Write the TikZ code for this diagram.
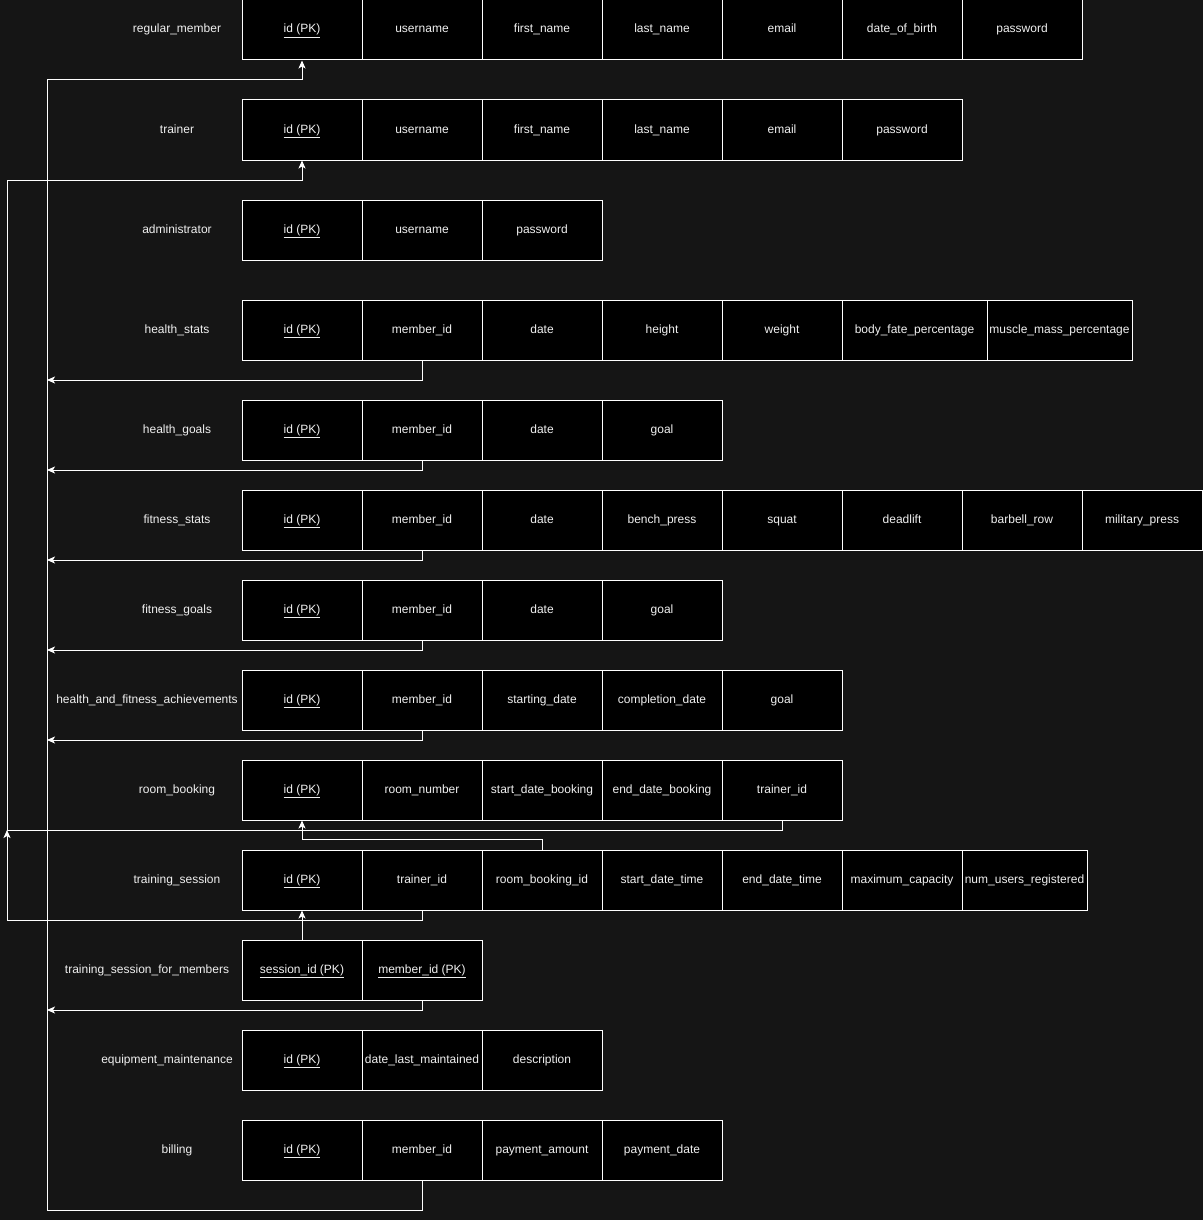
\documentclass[tikz,border=0pt]{standalone}
\usepackage{fontspec}
\setmainfont{Liberation Sans}
\usetikzlibrary{arrows.meta}

\definecolor{canvas}{HTML}{151515}
\definecolor{inktext}{HTML}{F0F0F0}

\newcommand\pkey[1]{\underline{#1}}
% one table row: #1 name prefix, #2 top edge, #3 list of x/width/text
\newcommand\entityrow[3]{%
  \foreach \x/\w/\t [count=\i] in {#3}{%
    \node[cell, minimum width=\w] (#1-\i) at ({\x+\w/2},{#2+30}) {\t};
  }%
}

\begin{document}
\begin{tikzpicture}[x=1pt,y=-1pt,
  cell/.style={draw=white, fill=black, line width=1pt, minimum height=60,
    inner sep=0pt, text=inktext, text height=8.5pt, text depth=2.5pt,
    font=\fontsize{12}{14}\selectfont},
  lbl/.style={text=inktext, inner sep=0pt, text height=8.5pt, text depth=2.5pt,
    font=\fontsize{12}{14}\selectfont},
  conn/.style={draw=white, line width=1pt,
    -{Stealth[length=8pt,width=7pt,inset=2pt]}}]

\fill[canvas] (0,0) rectangle (1203,1220);
\useasboundingbox (0,0) rectangle (1203,1220);

% table labels
\node[lbl] (l-rm)  at (177,30)   {regular\_member};
\node[lbl] (l-tr)  at (177,130)  {trainer};
\node[lbl] (l-ad)  at (177,230)  {administrator};
\node[lbl] (l-hs)  at (177,330)  {health\_stats};
\node[lbl] (l-hg)  at (177,430)  {health\_goals};
\node[lbl] (l-fs)  at (177,520)  {fitness\_stats};
\node[lbl] (l-fg)  at (177,610)  {fitness\_goals};
\node[lbl] (l-ach) at (147,700)  {health\_and\_fitness\_achievements};
\node[lbl] (l-rb)  at (177,790)  {room\_booking};
\node[lbl] (l-ts)  at (177,880)  {training\_session};
\node[lbl] (l-tm)  at (147,970)  {training\_session\_for\_members};
\node[lbl] (l-em)  at (167,1060) {equipment\_maintenance};
\node[lbl] (l-bl)  at (177,1150) {billing};

% table fields
\entityrow{rm}{0}{242/120/\pkey{id (PK)}, 362/120/username, 482/120/first\_name,
  602/120/last\_name, 722/120/email, 842/120/date\_of\_birth, 962/120/password}
\entityrow{tr}{100}{242/120/\pkey{id (PK)}, 362/120/username, 482/120/first\_name,
  602/120/last\_name, 722/120/email, 842/120/password}
\entityrow{ad}{200}{242/120/\pkey{id (PK)}, 362/120/username, 482/120/password}
\entityrow{hs}{300}{242/120/\pkey{id (PK)}, 362/120/member\_id, 482/120/date,
  602/120/height, 722/120/weight, 842/145/body\_fate\_percentage,
  987/145/muscle\_mass\_percentage}
\entityrow{hg}{400}{242/120/\pkey{id (PK)}, 362/120/member\_id, 482/120/date, 602/120/goal}
\entityrow{fs}{490}{242/120/\pkey{id (PK)}, 362/120/member\_id, 482/120/date,
  602/120/bench\_press, 722/120/squat, 842/120/deadlift, 962/120/barbell\_row,
  1082/120/military\_press}
\entityrow{fg}{580}{242/120/\pkey{id (PK)}, 362/120/member\_id, 482/120/date, 602/120/goal}
\entityrow{ach}{670}{242/120/\pkey{id (PK)}, 362/120/member\_id, 482/120/starting\_date,
  602/120/completion\_date, 722/120/goal}
\entityrow{rb}{760}{242/120/\pkey{id (PK)}, 362/120/room\_number,
  482/120/start\_date\_booking, 602/120/end\_date\_booking, 722/120/trainer\_id}
\entityrow{ts}{850}{242/120/\pkey{id (PK)}, 362/120/trainer\_id, 482/120/room\_booking\_id,
  602/120/start\_date\_time, 722/120/end\_date\_time, 842/120/maximum\_capacity,
  962/125/num\_users\_registered}
\entityrow{tm}{940}{242/120/\pkey{session\_id (PK)}, 362/120/\pkey{member\_id (PK)}}
\entityrow{em}{1030}{242/120/\pkey{id (PK)}, 362/120/date\_last\_maintained,
  482/120/description}
\entityrow{bl}{1120}{242/120/\pkey{id (PK)}, 362/120/member\_id,
  482/120/payment\_amount, 602/120/payment\_date}

% member bus
\coordinate (mb-top) at (47,80);
\coordinate (mb-bot) at (47,1210);
\coordinate (mb-hs) at (47,380);
\coordinate (mb-hg) at (47,470);
\coordinate (mb-fs) at (47,560);
\coordinate (mb-fg) at (47,650);
\coordinate (mb-ach) at (47,740);
\coordinate (mb-tm) at (47,1010);

\draw[conn] (bl-2.south) |- (mb-bot) -- (mb-top) -| (rm-1.south);
\draw[conn] (hs-2.south) |- (mb-hs);
\draw[conn] (hg-2.south) |- (mb-hg);
\draw[conn] (fs-2.south) |- (mb-fs);
\draw[conn] (fg-2.south) |- (mb-fg);
\draw[conn] (ach-2.south) |- (mb-ach);
\draw[conn] (tm-2.south) |- (mb-tm);

% trainer bus
\coordinate (tb-top) at (7,180);
\coordinate (tb-mid) at (7,830);
\coordinate (tb-bot) at (7,920);
\draw[conn] (rb-5.south) |- (tb-mid) -- (tb-top) -| (tr-1.south);
\draw[conn] (ts-2.south) |- (tb-bot) -- (tb-mid);

% room booking and session links
\draw[conn] (ts-3.north) -- ++(0,-10) -| (rb-1.south);
\draw[conn] (tm-1.north) -- (ts-1.south);

\end{tikzpicture}
\end{document}
